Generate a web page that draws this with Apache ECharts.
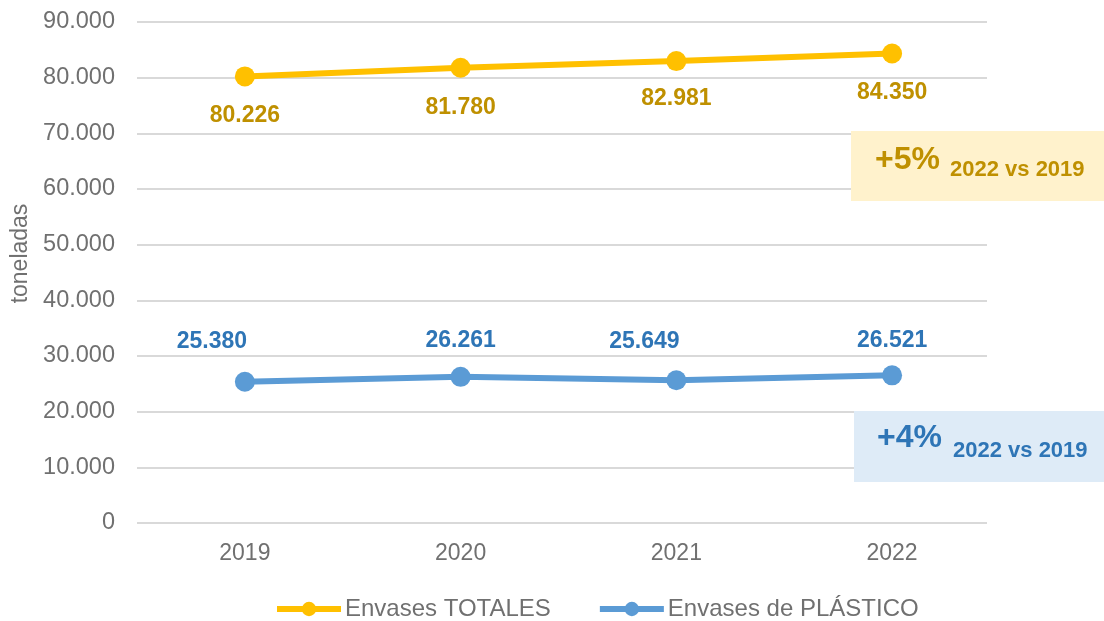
<!DOCTYPE html>
<html>
<head>
<meta charset="utf-8">
<script src="https://cdn.jsdelivr.net/npm/echarts@6/dist/echarts.min.js"></script>
<style>
html,body{margin:0;padding:0;background:#fff;}
#chart{width:1104px;height:621px;}
</style>
</head>
<body>
<div id="chart"></div>
<script>
// ---- data ----
var years = ['2019', '2020', '2021', '2022'];
var totales = [80226, 81780, 82981, 84350];
var plastico = [25380, 26261, 25649, 26521];
var seriesNames = ['Envases TOTALES', 'Envases de PLÁSTICO'];
var yTicks = [0, 10000, 20000, 30000, 40000, 50000, 60000, 70000, 80000, 90000];
var notes = [
  { big: '+5%', small: '2022 vs 2019' },
  { big: '+4%', small: '2022 vs 2019' }
];

// ---- presentation ----
var FONT = '"Liberation Sans", Arial, sans-serif';
var GRAY = '#707070';
var GOLD = '#BF9000';
var BLUE_T = '#2E75B6';

function fmt(v) {
  return String(v).replace(/\B(?=(\d{3})+(?!\d))/g, '.');
}

var totLabelOffsets = [[0, 39], [0, 40], [0, 38], [0, 39]];
var plaLabelOffsets = [[-33, -40], [0, -36], [-32, -39], [0, -35]];

function buildData(vals, offs) {
  return vals.map(function (v, i) {
    return { value: [i, v], label: { offset: offs[i] } };
  });
}

var chart = echarts.init(document.getElementById('chart'), null, { renderer: 'canvas' });

var option = {
  animation: false,
  backgroundColor: '#ffffff',
  textStyle: { fontFamily: FONT },
  grid: { left: 137, right: 117, top: 22, bottom: 98, containLabel: false },
  xAxis: {
    type: 'value',
    min: -0.5,
    max: 3.44,
    axisLine: { show: false },
    axisTick: { show: false },
    splitLine: { show: false },
    axisLabel: {
      customValues: [0, 1, 2, 3],
      formatter: function (v) { return years[Math.round(v)]; },
      color: GRAY,
      fontSize: 23,
      fontFamily: FONT,
      margin: 19
    }
  },
  yAxis: {
    type: 'value',
    min: yTicks[0],
    max: yTicks[yTicks.length - 1],
    interval: 10000,
    name: 'toneladas',
    nameLocation: 'middle',
    nameGap: 101,
    nameTextStyle: { color: GRAY, fontSize: 23, fontFamily: FONT, padding: [0, 0, 0, 38] },
    axisLine: { show: false },
    axisTick: { show: false },
    splitLine: { lineStyle: { color: '#D9D9D9', width: 2 } },
    axisLabel: {
      formatter: function (v) { return fmt(v); },
      color: GRAY,
      fontSize: 23.5,
      fontFamily: FONT,
      margin: 22
    }
  },
  legend: {
    left: 269,
    top: 592,
    itemWidth: 64,
    itemHeight: 18,
    itemGap: 46,
    lineStyle: { width: 6 },
    textStyle: { color: GRAY, fontSize: 24, fontFamily: FONT, padding: [0, 0, 0, -1] },
    data: seriesNames
  },
  series: [
    {
      name: seriesNames[0],
      type: 'line',
      data: buildData(totales, totLabelOffsets),
      symbol: 'circle',
      symbolSize: 20,
      lineStyle: { color: '#FFC000', width: 6 },
      itemStyle: { color: '#FFC000' },
      label: {
        show: true,
        position: 'inside',
        formatter: function (p) { return fmt(p.value[1]); },
        color: GOLD,
        fontWeight: 'bold',
        fontSize: 23,
        fontFamily: FONT
      },
      z: 3
    },
    {
      name: seriesNames[1],
      type: 'line',
      data: buildData(plastico, plaLabelOffsets),
      symbol: 'circle',
      symbolSize: 20,
      lineStyle: { color: '#5B9BD5', width: 6 },
      itemStyle: { color: '#5B9BD5' },
      label: {
        show: true,
        position: 'inside',
        formatter: function (p) { return fmt(p.value[1]); },
        color: BLUE_T,
        fontWeight: 'bold',
        fontSize: 23,
        fontFamily: FONT
      },
      z: 3
    }
  ],
  graphic: [
    { type: 'rect', left: 851, top: 131, shape: { width: 253, height: 70 }, style: { fill: '#FFF2CC' }, z: 10 },
    { type: 'text', x: 875, y: 160, style: { text: notes[0].big, fill: GOLD, font: 'bold 32px ' + FONT, verticalAlign: 'middle', align: 'left' }, z: 11 },
    { type: 'text', x: 950, y: 170, style: { text: notes[0].small, fill: GOLD, font: 'bold 22px ' + FONT, verticalAlign: 'middle', align: 'left' }, z: 11 },
    { type: 'rect', left: 854, top: 411, shape: { width: 250, height: 71 }, style: { fill: '#DEEBF7' }, z: 10 },
    { type: 'text', x: 877, y: 438, style: { text: notes[1].big, fill: BLUE_T, font: 'bold 32px ' + FONT, verticalAlign: 'middle', align: 'left' }, z: 11 },
    { type: 'text', x: 953, y: 451, style: { text: notes[1].small, fill: BLUE_T, font: 'bold 22px ' + FONT, verticalAlign: 'middle', align: 'left' }, z: 11 }
  ]
};

chart.setOption(option);
</script>
</body>
</html>
